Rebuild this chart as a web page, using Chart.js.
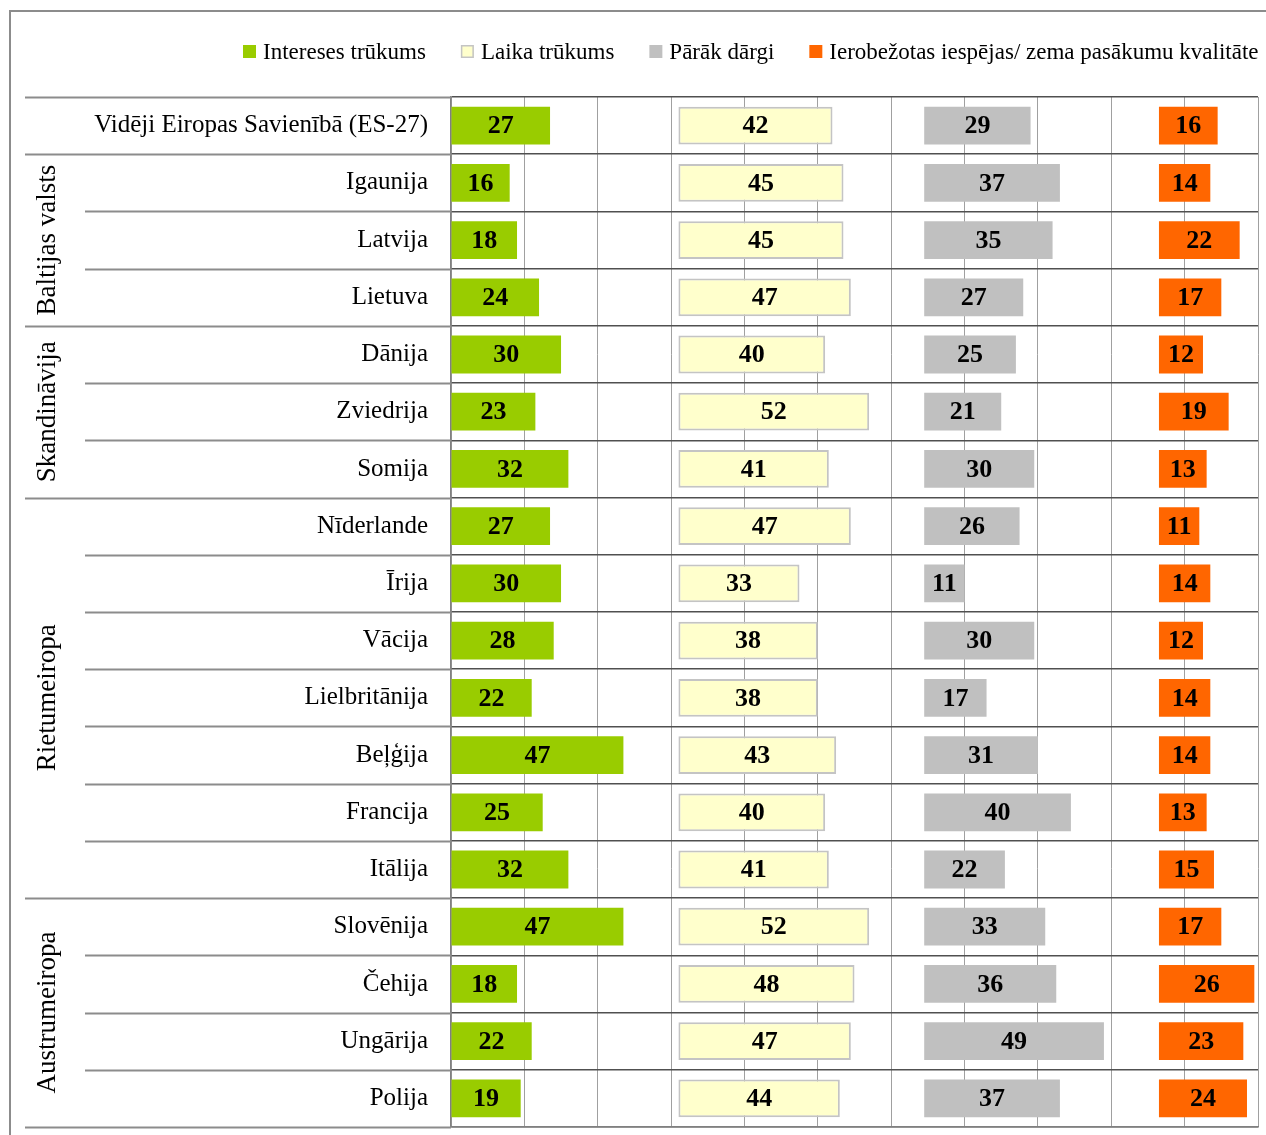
<!DOCTYPE html>
<html><head><meta charset="utf-8">
<script src="https://cdn.jsdelivr.net/npm/chart.js@4.4.1/dist/chart.umd.min.js"></script>
<style>
html,body{margin:0;padding:0;background:#fff;width:1266px;height:1135px;overflow:hidden;}
#frame{position:absolute;left:9px;top:10px;width:1400px;height:1300px;border-left:2px solid #8c8c8c;border-top:2px solid #8c8c8c;}
#wrap{position:absolute;left:0;top:0;width:1266px;height:1135px;}
</style></head><body>
<div id="frame"></div>
<div id="wrap"><canvas id="c" width="1266" height="1135"></canvas></div>
<script>
const categories = ['Vidēji Eiropas Savienībā (ES-27)','Igaunija','Latvija','Lietuva','Dānija','Zviedrija','Somija','Nīderlande','Īrija','Vācija','Lielbritānija','Beļģija','Francija','Itālija','Slovēnija','Čehija','Ungārija','Polija'];
const seriesNames = ['Intereses trūkums','Laika trūkums','Pārāk dārgi','Ierobežotas iespējas/ zema pasākumu kvalitāte'];
const interest  = [27,16,18,24,30,23,32,27,30,28,22,47,25,32,47,18,22,19];
const timeLack  = [42,45,45,47,40,52,41,47,33,38,38,43,40,41,52,48,47,44];
const expensive = [29,37,35,27,25,21,30,26,11,30,17,31,40,22,33,36,49,37];
const limited   = [16,14,22,17,12,19,13,11,14,12,14,14,13,15,17,26,23,24];
const groupNames = ['Baltijas valsts','Skandināvija','Rietumeiropa','Austrumeiropa'];
const groupFirst = [1,4,7,14];
const groupLast  = [3,6,13,17];

const panelStart = [0,62,129,193];   // axis value where each panel's bars begin
const axisMax = 220, gridStep = 20;
const fills   = ['#99CC00','#FFFFCC','#C0C0C0','#FF6600'];
const borders = ['#99CC00','#C4C4C4','#C0C0C0','#FF6600'];
const serif = '"Liberation Serif", "Times New Roman", serif';

const allSeries = [interest, timeLack, expensive, limited];
const datasets = allSeries.map((vals, s) => ({
  label: seriesNames[s],
  data: vals.map(v => [panelStart[s], panelStart[s] + v]),
  values: vals,
  backgroundColor: fills[s],
  borderColor: borders[s],
  borderWidth: s === 1 ? 2 : 0,
  borderSkipped: false,
  grouped: false,
  barPercentage: 0.66,
  categoryPercentage: 1
}));

const decor = {
  id: 'decor',
  beforeDatasetsDraw(chart) {
    const ctx = chart.ctx, a = chart.chartArea;
    const n = categories.length, h = (a.bottom - a.top) / n;
    const majors = new Set([0, n]);
    groupFirst.forEach(f => majors.add(f));
    groupLast.forEach(l => majors.add(l + 1));
    ctx.save();
    for (let k = 0; k <= n; k++) {
      const y = Math.round(a.top + k * h) + 0.5;
      ctx.strokeStyle = '#8c8c8c'; ctx.lineWidth = 2;
      ctx.beginPath(); ctx.moveTo(majors.has(k) ? 25 : 85, y); ctx.lineTo(a.left, y); ctx.stroke();
    }
    ctx.restore();
  },
  afterDatasetsDraw(chart) {
    const ctx = chart.ctx, a = chart.chartArea;
    const n = categories.length, h = (a.bottom - a.top) / n;
    ctx.save();
    // bar value labels
    ctx.font = 'bold 26px ' + serif;
    ctx.fillStyle = '#000';
    ctx.textAlign = 'center'; ctx.textBaseline = 'middle';
    chart.data.datasets.forEach((ds, di) => {
      chart.getDatasetMeta(di).data.forEach((el, i) => {
        ctx.fillText(String(ds.values[i]), (el.x + el.base) / 2, el.y + 1);
      });
    });
    // group labels
    ctx.font = '27px ' + serif;
    groupNames.forEach((g, gi) => {
      const yc = a.top + ((groupFirst[gi] + groupLast[gi] + 1) / 2) * h;
      ctx.save();
      ctx.translate(48, yc);
      ctx.rotate(-Math.PI / 2);
      ctx.fillText(g, 0, 0);
      ctx.restore();
    });
    // legend
    ctx.font = '23px ' + serif;
    ctx.textAlign = 'left';
    let x = 243; const y = 52;
    chart.data.datasets.forEach((ds) => {
      ctx.fillStyle = ds.backgroundColor;
      ctx.fillRect(x, y - 7, 13, 13);
      if (ds.borderWidth) { ctx.strokeStyle = ds.borderColor; ctx.lineWidth = 1.5; ctx.strokeRect(x + 0.75, y - 6.25, 11.5, 11.5); }
      ctx.fillStyle = '#000';
      ctx.fillText(ds.label, x + 20, y + 1);
      x += 20 + ctx.measureText(ds.label).width + 35;
    });
    ctx.restore();
  }
};

new Chart(document.getElementById('c'), {
  type: 'bar',
  data: { labels: categories, datasets },
  options: {
    indexAxis: 'y',
    responsive: false,
    animation: false,
    devicePixelRatio: 1,
    layout: { padding: { top: 97, right: 8, bottom: 8, left: 0 } },
    plugins: { legend: { display: false }, tooltip: { enabled: false } },
    scales: {
      x: {
        type: 'linear', min: 0, max: axisMax,
        ticks: { display: false, stepSize: gridStep },
        grid: { color: '#a0a0a0', lineWidth: 1, drawTicks: false },
        border: { display: true, color: '#808080', width: 1.5 },
        afterFit: (scale) => { scale.height = 0; scale.paddingLeft = 0; scale.paddingRight = 0; }
      },
      y: {
        type: 'category',
        offset: true,
        grid: { offset: true, color: '#505050', lineWidth: 1.5, drawTicks: false },
        border: { display: true, color: '#808080', width: 1.5 },
        ticks: { color: '#000', font: { family: serif, size: 25 }, padding: 23 },
        afterFit: (scale) => { scale.width = 451; scale.paddingTop = 0; scale.paddingBottom = 0; }
      }
    }
  },
  plugins: [decor]
});
</script>
</body></html>
